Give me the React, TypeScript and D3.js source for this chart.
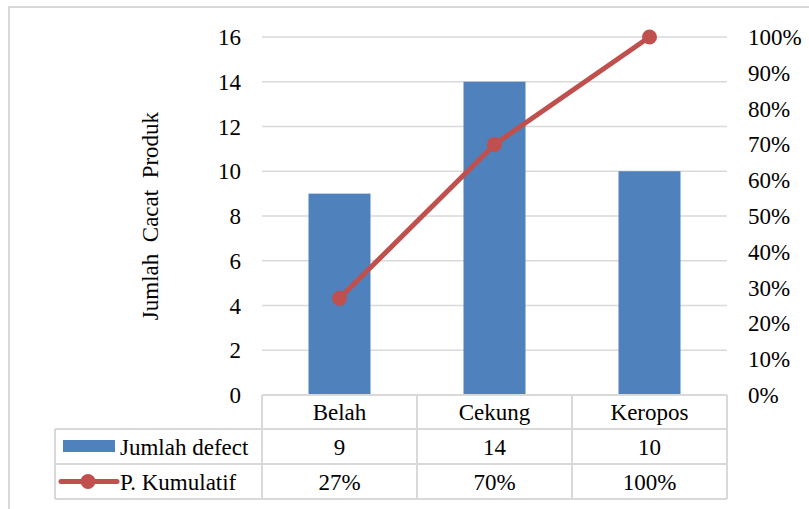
import React from "react";
import * as d3 from "d3";

const categories = ["Belah", "Cekung", "Keropos"];
const defectCounts = [9, 14, 10];
const cumulativePct = [0.27, 0.7, 1.0];
const cumulativeLabels = ["27%", "70%", "100%"];
const leftTicks = [0, 2, 4, 6, 8, 10, 12, 14, 16];
const rightTicks = [0, 0.1, 0.2, 0.3, 0.4, 0.5, 0.6, 0.7, 0.8, 0.9, 1.0];
const seriesNames = ["Jumlah defect", "P. Kumulatif"];
const yTitle = "Jumlah  Cacat  Produk";

const W = 809;
const H = 509;
const BAR = "#4F81BD";
const LINE = "#C0504D";
const GRID = "#D9D9D9";
const FONT = "Liberation Serif";

export default function App() {
  const left = 262, right = 727, top = 37, bottom = 395;
  const x = d3.scaleBand<string>().domain(categories).range([left, right]).paddingInner(0).paddingOuter(0);
  const y = d3.scaleLinear().domain([0, 16]).range([bottom, top]);
  const y2 = d3.scaleLinear().domain([0, 1]).range([bottom, top]);
  const bw = x.bandwidth() * 0.4;
  const cx = (c: string) => (x(c) as number) + x.bandwidth() / 2;
  const line = d3.line<number>().x((_, i) => cx(categories[i])).y((d) => y2(d));
  const rowTops = [395, 429, 464, 499];
  const legendLeft = 55;
  const fs = 23;
  const ts = { fontFamily: FONT };

  return (
    <svg width={W} height={H} style={{ position: "absolute", left: 0, top: 0 }}>
      <style>{`svg text { font-family: "Liberation Serif", serif !important; }`}</style>
      <rect x={0} y={0} width={W} height={H} fill="#fff" />
      <rect x={9} y={7} width={W + 40} height={H + 40} fill="none" stroke={GRID} strokeWidth={2} />
      {leftTicks.map((t) => (
        <g key={"l" + t}>
          {t > 0 && <line x1={left} x2={right} y1={y(t)} y2={y(t)} stroke={GRID} strokeWidth={1.5} />}
          <text style={ts} fontFamily={FONT} x={241} y={y(t)} dy="0.35em" textAnchor="end" fontSize={fs} fill="#000">{t}</text>
        </g>
      ))}
      {rightTicks.map((t) => (
        <text style={ts} fontFamily={FONT} key={"r" + t} x={748} y={y2(t)} dy="0.35em" textAnchor="start" fontSize={fs} fill="#000">
          {d3.format(".0%")(t)}
        </text>
      ))}
      <text transform={`translate(150,216) rotate(-90)`} fontFamily={FONT} textAnchor="middle" dy="0.35em" fontSize={fs} fill="#000" style={{ ...ts, whiteSpace: "pre" }}>
        {yTitle}
      </text>
      {categories.map((c, i) => (
        <rect key={c} x={cx(c) - bw / 2} y={y(defectCounts[i])} width={bw} height={y(0) - y(defectCounts[i])} fill={BAR} />
      ))}
      <path d={line(cumulativePct) || ""} fill="none" stroke={LINE} strokeWidth={5} strokeLinejoin="round" />
      {cumulativePct.map((p, i) => (
        <circle key={i} cx={cx(categories[i])} cy={y2(p)} r={7.5} fill={LINE} />
      ))}
      <g stroke={GRID} strokeWidth={2} fill="none">
        <line x1={left} x2={right} y1={rowTops[0]} y2={rowTops[0]} />
        <line x1={legendLeft} x2={right} y1={rowTops[1]} y2={rowTops[1]} />
        <line x1={legendLeft} x2={right} y1={rowTops[2]} y2={rowTops[2]} />
        <line x1={legendLeft} x2={right} y1={rowTops[3]} y2={rowTops[3]} />
        <line x1={legendLeft} x2={legendLeft} y1={rowTops[1]} y2={rowTops[3]} />
        {[left, ...categories.map((c) => (x(c) as number) + x.bandwidth())].map((xx, i) => (
          <line key={i} x1={xx} x2={xx} y1={rowTops[0]} y2={rowTops[3]} />
        ))}
      </g>
      {categories.map((c, i) => (
        <g key={"t" + c} fontSize={fs} fill="#000" textAnchor="middle" fontFamily={FONT}>
          <text style={ts} x={cx(c)} y={(rowTops[0] + rowTops[1]) / 2} dy="0.35em">{c}</text>
          <text style={ts} x={cx(c)} y={(rowTops[1] + rowTops[2]) / 2} dy="0.35em">{defectCounts[i]}</text>
          <text style={ts} x={cx(c)} y={(rowTops[2] + rowTops[3]) / 2} dy="0.35em">{cumulativeLabels[i]}</text>
        </g>
      ))}
      <rect x={63} y={440} width={52} height={12} fill={BAR} />
      <text style={ts} fontFamily={FONT} x={120} y={(rowTops[1] + rowTops[2]) / 2} dy="0.35em" fontSize={fs} fill="#000">{seriesNames[0]}</text>
      <line x1={61} x2={117} y1={481.5} y2={481.5} stroke={LINE} strokeWidth={5} strokeLinecap="round" />
      <circle cx={88} cy={481.5} r={7.5} fill={LINE} />
      <text style={ts} fontFamily={FONT} x={120} y={(rowTops[2] + rowTops[3]) / 2} dy="0.35em" fontSize={fs} fill="#000">{seriesNames[1]}</text>
    </svg>
  );
}
